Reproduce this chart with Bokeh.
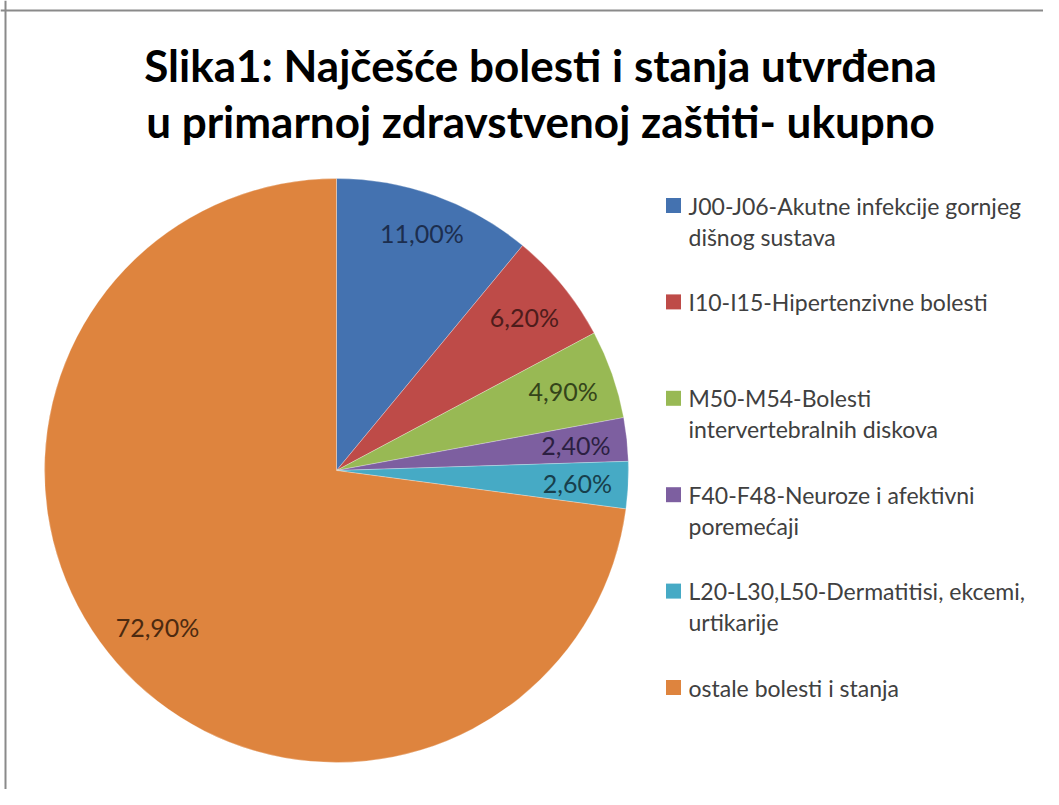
import math
from bokeh.plotting import figure
from bokeh.models import Range1d, Span
from bokeh.core.properties import value
from bokeh.embed import file_html
from bokeh.resources import INLINE

# ---- data ----
title_lines = ["Slika1: Najčešće bolesti i stanja utvrđena",
               "u primarnoj zdravstvenoj zaštiti- ukupno"]
categories = [
    "J00-J06-Akutne infekcije gornjeg\ndišnog sustava",
    "I10-I15-Hipertenzivne bolesti",
    "M50-M54-Bolesti\nintervertebralnih diskova",
    "F40-F48-Neuroze i afektivni\nporemećaji",
    "L20-L30,L50-Dermatitisi, ekcemi,\nurtikarije",
    "ostale bolesti i stanja",
]
percentages = [11.0, 6.2, 4.9, 2.4, 2.6, 72.9]
pct_labels = ["11,00%", "6,20%", "4,90%", "2,40%", "2,60%", "72,90%"]
colors = ["#4472B0", "#BE4B48", "#98B954", "#7D5FA0", "#46AAC5", "#DE843E"]
label_colors = ["#1C2E4E", "#4E1C1B", "#34441A", "#2C1F42", "#173F4C", "#4C2A10"]

# ---- layout ----
W, H = 1043, 789
FONT = "Lato"
p = figure(width=W, height=H, output_backend="svg", toolbar_location=None,
           x_range=Range1d(0, W), y_range=Range1d(0, H), min_border=0,
           outline_line_color=None)
p.axis.visible = False
p.grid.visible = False
p.background_fill_color = "white"
p.border_fill_color = "white"

def py(img_y):
    return H - img_y

def px(img_x):
    return img_x

# frame (top & left edges visible in reference)
p.add_layout(Span(location=py(10), dimension="width", line_color="#8a8a8a", line_width=2))
p.add_layout(Span(location=px(5), dimension="height", line_color="#8a8a8a", line_width=2))

# ---- title ----
p.text(x=[px(540)] * 2, y=[py(64), py(120)], text=title_lines,
       text_font=value(FONT), text_font_style="bold", text_font_size="44px",
       text_color="#000000", text_align="center", text_baseline="alphabetic")

# ---- pie ----
cx, cy, R = px(336), py(470), 292
total = sum(percentages)
starts, ends, mids = [], [], []
acc = 0.0
for v in percentages:
    a0 = math.pi / 2 - 2 * math.pi * acc / total
    acc += v
    a1 = math.pi / 2 - 2 * math.pi * acc / total
    starts.append(a0); ends.append(a1); mids.append((a0 + a1) / 2)

p.wedge(x=[cx] * len(percentages), y=[cy] * len(percentages), radius=R,
        start_angle=starts, end_angle=ends, direction="clock",
        fill_color=colors, line_color="#ffffff", line_alpha=0.35, line_width=0.8)

# data labels, inside end
fs = 25
lx, ly = [], []
for lab, m in zip(pct_labels, mids):
    w = 0.55 * fs * len(lab)
    h = 0.85 * fs
    ext = (w / 2) * abs(math.cos(m)) + (h / 2) * abs(math.sin(m))
    r = R - 16 - ext
    lx.append(cx + r * math.cos(m)); ly.append(cy + r * math.sin(m))
p.text(x=lx, y=ly, text=pct_labels, text_font=value(FONT), text_font_size=f"{fs}px",
       text_color=label_colors, text_align="center", text_baseline="middle")

# ---- legend ----
leg_x_sq, leg_x_txt = px(673), px(688)
y0, slot, line_h = 205, 96.4, 31
sq_x, sq_y, tx, ty, tt = [], [], [], [], []
for k, cat in enumerate(categories):
    yk = y0 + k * slot
    sq_x.append(leg_x_sq); sq_y.append(py(yk))
    for j, line in enumerate(cat.split("\n")):
        tx.append(leg_x_txt); ty.append(py(yk + j * line_h)); tt.append(line)
p.scatter(x=sq_x, y=sq_y, marker="square", size=15, fill_color=colors, line_color=None)
p.text(x=tx, y=ty, text=tt, text_font=value(FONT), text_font_size="23px",
       text_color="#404040", text_align="left", text_baseline="middle")

open("out.html", "w").write(file_html(p, INLINE))
